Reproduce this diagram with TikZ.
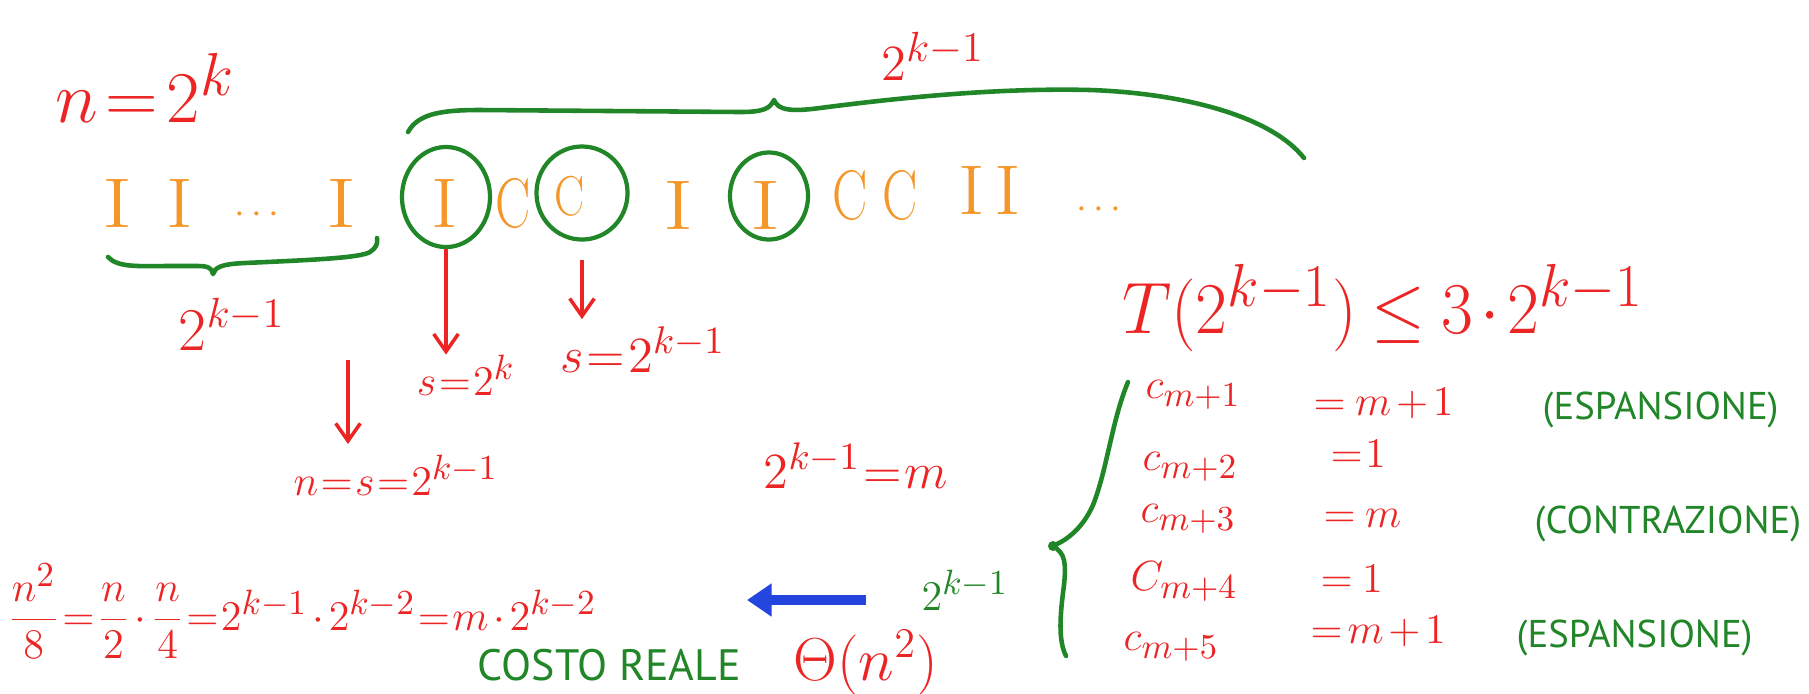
\documentclass[tikz,border=0pt]{standalone}
\usepackage{amsmath}
\usepackage{fontspec}
\usepackage{graphicx}
\newfontfamily\labfont{PT Sans}
\usetikzlibrary{arrows.meta,shapes.geometric}
\renewcommand{\defaultscriptratio}{.8}
\renewcommand{\defaultscriptscriptratio}{.65}
\definecolor{hred}{RGB}{236,36,36}
\definecolor{hgreen}{RGB}{32,134,40}
\definecolor{horange}{RGB}{244,150,40}
\definecolor{hblue}{RGB}{36,70,222}
\newcommand{\setfs}[1]{\fontsize{#1}{#1}\selectfont}
\newcommand{\hsq}[2]{\scalebox{#1}[1]{#2}}
\tikzset{
  rt/.style={text=hred, inner sep=0pt, anchor=base},
  rtw/.style={text=hred, inner sep=0pt, anchor=base west},
  gtw/.style={text=hgreen, inner sep=0pt, anchor=base west, font=\labfont\fontsize{11}{11}\selectfont},
  ot/.style={text=horange, inner sep=0pt, anchor=base, font=\setfs{20}},
  ring/.style={draw=hgreen, line width=1.2pt, ellipse, inner sep=0pt},
  gbrace/.style={draw=hgreen, line width=1.3pt, line cap=round, line join=round},
  rarrow/.style={draw=hred, line width=1pt, -{Straight Barb[length=5pt,width=7pt]}},
  barrow/.style={draw=hblue, line width=2.6pt, -{Triangle[length=7pt,width=9pt]}}
}
\begin{document}
\begin{tikzpicture}[x=0.01cm,y=-0.01cm]
\thickmuskip=1mu \medmuskip=2mu
\useasboundingbox[fill=white] (0,0) rectangle (1809,693);

% n = 2^k
\node[rt, font=\setfs{21}] (n2k) at (145,122) {$n\;=\;2^k$};

% top brace and label
\draw[gbrace] (408,132) .. controls (418,114) and (440,110) .. (480,110) -- (740,112)
  .. controls (765,112) and (770,108) .. (774,100)
  .. controls (778,110) and (790,112) .. (820,108)
  .. controls (920,95) and (1010,88) .. (1090,90)
  .. controls (1180,93) and (1270,115) .. (1304,158);
\node[rt, font=\setfs{15}] (topexp) at (933,80) {$2^{k-1}$};

% sequence
\node[ot] (s1) at (117,227) {\hsq{1.3}{I}};
\node[ot] (s2) at (180,227) {\hsq{1.15}{I}};
\node[ot, font=\setfs{11}] (sd1) at (260,223) {$\cdots$};
\node[ot] (s3) at (341,227) {\hsq{1.3}{I}};
\node[ot] (s4) at (445,227) {\hsq{1.15}{I}};
\node[ot] (s5) at (513,227) {\hsq{.75}{C}};
\node[ot, font=\setfs{16}] (s6) at (570,215) {\hsq{.8}{C}};
\node[ot] (s7) at (678,229) {\hsq{1.3}{I}};
\node[ot] (s8) at (765,229) {\hsq{1.3}{I}};
\node[ot] (s9) at (850,219) {\hsq{.75}{C}};
\node[ot] (s10) at (900,219) {\hsq{.75}{C}};
\node[ot] (s11) at (972,214) {\hsq{1.15}{I}};
\node[ot] (s12) at (1008,214) {\hsq{1.15}{I}};
\node[ot, font=\setfs{11}] (sd2) at (1102,218) {$\cdots$};

% circles
\node[ring, minimum width=0.88cm, minimum height=1cm] (c1) at (446,197) {};
\node[ring, minimum width=0.91cm, minimum height=0.93cm] (c2) at (582,193) {};
\node[ring, minimum width=0.78cm, minimum height=0.87cm] (c3) at (769,196) {};

% bottom-left brace and label
\draw[gbrace] (108,257) .. controls (118,268) and (140,266) .. (170,266) -- (198,266)
  .. controls (208,266) and (212,268) .. (213,274)
  .. controls (215,267) and (222,264) .. (245,263)
  .. controls (310,260) and (360,258) .. (370,252)
  .. controls (376,248) and (378,244) .. (377,238);
\node[rt, font=\setfs{16}] (botexp) at (232,350) {$2^{k-1}$};

% s labels and arrows
\node[rt, font=\setfs{13}] (sk) at (466,395) {$s=2^k$};
\node[rt, font=\setfs{14}] (sk1) at (643,372) {$s=2^{k-1}$};
\draw[rarrow] (c1.south) -- (c1.south |- sk.north);
\draw[rarrow, shorten <=0.18cm] (c2.south) -- ([yshift=2pt]c2.south |- sk1.north);

\coordinate (fa1) at (348,360);
\node[rt, font=\setfs{13}] (nss) at (396,495) {$n=s=2^{k-1}$};
\draw[rarrow] (fa1) -- ([yshift=3pt]fa1 |- nss.north);

\node[rt, font=\setfs{14}] (km) at (856,488) {$2^{k-1}=m$};

% T inequality
\node[rt, font=\setfs{22}] (T) at (1383,333) {\hsq{.95}{$T(2^{k-1})\,\leq\, 3\cdot 2^{k-1}$}};

% right brace
\draw[gbrace] (1128,382) .. controls (1112,420) and (1107,470) .. (1093,505)
  .. controls (1082,530) and (1064,542) .. (1052,546)
  .. controls (1066,552) and (1066,565) .. (1064,585)
  .. controls (1060,615) and (1058,640) .. (1066,656);
\fill[hgreen] (1053,546) circle (5);

% rows
\node[rtw, font=\setfs{13}] (r1l) at (1145,398) {$c_{m+1}$};
\node[rtw, font=\setfs{13}] (r1r) at (1313,415) {$=\, m+1$};
\node[gtw] (r1t) at (1542,419) {(ESPANSIONE)};
\node[rtw, font=\setfs{13}] (r2l) at (1142,470) {$c_{m+2}$};
\node[rtw, font=\setfs{13}] (r2r) at (1330,467) {$=1$};
\node[rtw, font=\setfs{13}] (r3l) at (1140,522) {$c_{m+3}$};
\node[rtw, font=\setfs{13}] (r3r) at (1323,527) {$=\, m$};
\node[gtw] (r3t) at (1534,533) {(CONTRAZIONE)};
\node[rtw, font=\setfs{13}] (r4l) at (1130,590) {$C_{m+4}$};
\node[rtw, font=\setfs{13}] (r4r) at (1320,592) {$=\, 1$};
\node[rtw, font=\setfs{13}] (r5l) at (1123,650) {$c_{m+5}$};
\node[rtw, font=\setfs{13}] (r5r) at (1310,643) {$=\; m+1$};
\node[gtw] (r5t) at (1516,647) {(ESPANSIONE)};

% bottom equation
\node[rt, font=\setfs{12.2}] (eq) at (302,630)
  {$\dfrac{n^2}{8}=\dfrac{n}{2}\cdot\dfrac{n}{4}=2^{k-1}\cdot 2^{k-2}=m\cdot 2^{k-2}$};

% blue arrow and green exponent
\node[inner sep=0pt, anchor=base, text=hgreen, font=\setfs{13}] (g2) at (965,610) {$2^{k-1}$};
\coordinate (ba1) at (866,600);
\coordinate (ba2) at (747,600);
\draw[barrow] (ba1) -- (ba2);

% costo reale
\node[gtw, font=\labfont\fontsize{12.5}{12.5}\selectfont] (costo) at (477,680) {COSTO REALE};
\node[rtw, font=\setfs{16}] (theta) at (793,680) {$\Theta(n^2)$};
\end{tikzpicture}
\end{document}
